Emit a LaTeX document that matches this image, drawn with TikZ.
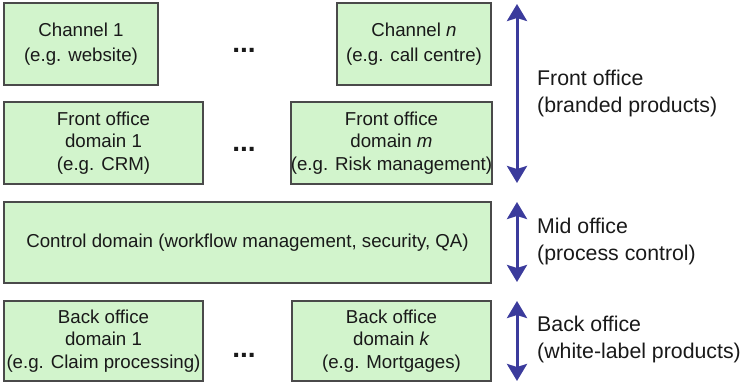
\documentclass[tikz,border=0pt]{standalone}
\usepackage{fontspec}
\setmainfont{Liberation Sans}
\usetikzlibrary{arrows.meta}
\definecolor{boxfill}{HTML}{D2F4CC}
\definecolor{boxline}{HTML}{4A4A4A}
\definecolor{arrowblue}{HTML}{3B3B9C}
\tikzset{
  box/.style={draw=boxline, line width=1.5pt, fill=boxfill, align=center, inner sep=0pt,
    font=\fontsize{18.7}{22.5}\selectfont, text=black!90},
  wide/.style={font=\fontsize{18.7}{24.5}\selectfont},
  dots/.style={inner sep=0pt, font=\fontsize{28}{30}\selectfont\bfseries, text=black!90},
  span/.style={draw=arrowblue, line width=3pt, {Stealth[length=17pt,width=20pt,inset=3pt]}-{Stealth[length=17pt,width=20pt,inset=3pt]}},
  lbl/.style={anchor=west, inner sep=0pt, align=left, font=\fontsize{21.3}{27}\selectfont, text=black!90}
}
\begin{document}
\begin{tikzpicture}[x=1pt,y=-1pt]
\useasboundingbox (0,0) rectangle (742,382);
\node[box, wide, minimum width=154, minimum height=82] (c1) at (81,44) {Channel 1\\(e.g. website)};
\node[box, wide, minimum width=154, minimum height=82] (cn) at (414,44) {Channel \textit{n}\\(e.g. call centre)};
\node[box, minimum width=199, minimum height=82] (f1) at (103.5,143) {Front office\\domain 1\\(e.g. CRM)};
\node[box, minimum width=199, minimum height=82] (fm) at (391.5,143) {Front office\\domain \textit{m}\\(e.g. Risk management)};
\node[box, minimum width=487, minimum height=81] (ctrl) at (247.5,242.5) {Control domain (workflow management, security, QA)};
\node[box, minimum width=199, minimum height=80] (b1) at (103.5,341) {Back office\\domain 1\\(e.g. Claim processing)};
\node[box, minimum width=199, minimum height=80] (bk) at (391.5,341) {Back office\\domain \textit{k}\\(e.g. Mortgages)};
\node[dots] (d1) at (244,50) {...};
\node[dots] (d2) at (244,149) {...};
\node[dots] (d3) at (244,355) {...};
\coordinate (ft) at (517,4);
\coordinate (fb) at (517,183);
\coordinate (mt) at (517,202);
\coordinate (mb) at (517,282);
\coordinate (bt) at (517,301);
\coordinate (bb) at (517,381);
\draw[span] (ft) -- (fb);
\draw[span] (mt) -- (mb);
\draw[span] (bt) -- (bb);
\node[lbl] (lf) at (537,93.5) {Front office\\(branded products)};
\node[lbl] (lm) at (537,241.5) {Mid office\\(process control)};
\node[lbl] (lb) at (537,339.5) {Back office\\(white-label products)};
\end{tikzpicture}
\end{document}
